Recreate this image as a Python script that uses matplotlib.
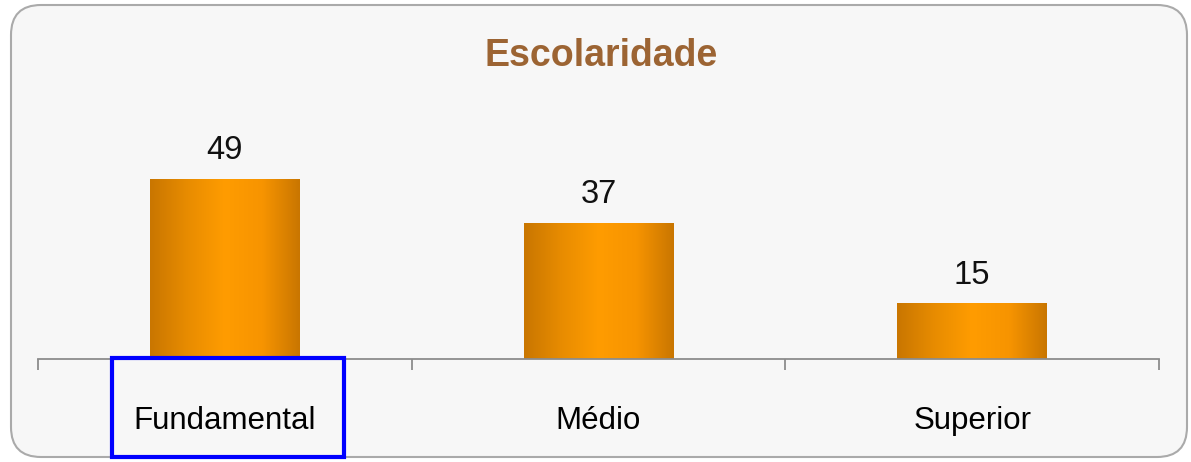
import numpy as np
import matplotlib
matplotlib.use("Agg")
import matplotlib.pyplot as plt
from matplotlib.patches import FancyBboxPatch, Rectangle
from matplotlib.colors import LinearSegmentedColormap
from matplotlib.transforms import IdentityTransform

plt.rcParams['font.family'] = ['Liberation Sans', 'DejaVu Sans']

categorias = ["Fundamental", "Médio", "Superior"]
valores = [49, 37, 15]
titulo = "Escolaridade"

W, H = 1191, 462
fig = plt.figure(figsize=(W / 100, H / 100), dpi=100)
fig.patch.set_facecolor("white")

# rounded background box (pixel coords, origin bottom-left)
caixa = FancyBboxPatch((11, H - 457), 1187 - 11, 457 - 5,
                       boxstyle="round,pad=0,rounding_size=30",
                       transform=IdentityTransform(), facecolor="#f7f7f7",
                       edgecolor="#aaaaaa", linewidth=1.5, zorder=-5)
fig.patches.append(caixa)

ax_left, ax_right = 38 / W, 1159 / W
ax_bottom = 1 - 359 / H
ax_top = 1 - 102 / H
ax = fig.add_axes([ax_left, ax_bottom, ax_right - ax_left, ax_top - ax_bottom])
ax.patch.set_alpha(0)

x = np.arange(len(categorias))
largura = 0.40
ymax = 70

cmap = LinearSegmentedColormap.from_list(
    "laranja", ["#c97600", "#e88c00", "#ff9c00", "#f79400", "#c97600"])
grad = np.linspace(0, 1, 256).reshape(1, -1)

barras = ax.bar(x, valores, width=largura, color="none", edgecolor="none")
for b, v in zip(barras, valores):
    x0 = b.get_x()
    ax.imshow(grad, extent=[x0, x0 + b.get_width(), 0, v], aspect="auto",
              cmap=cmap, zorder=2)
    ax.annotate(str(v), (b.get_x() + b.get_width() / 2, v), xytext=(0, 14.4),
                textcoords="offset points", ha="center", va="baseline",
                fontsize=23.5, color="#111111")

ax.set_xlim(-0.5, len(categorias) - 0.5)
ax.set_ylim(0, ymax)

for s in ["top", "right", "left"]:
    ax.spines[s].set_visible(False)
ax.spines["bottom"].set_color("#8c8c8c")
ax.spines["bottom"].set_linewidth(1.3)
ax.set_yticks([])

ax.set_xticks(np.arange(-0.5, len(categorias)))
ax.set_xticklabels([])
ax.tick_params(axis="x", which="major", length=8, width=1.3, color="#8c8c8c")
ax.set_xticks(x, minor=True)
ax.set_xticklabels(categorias, minor=True, fontsize=22.5)
ax.tick_params(axis="x", which="minor", length=0, pad=33.5)

fig.text(601 / W, 1 - 56 / H, titulo, ha="center", va="center",
         fontsize=27, fontweight="bold", color="#9c6433")

# blue highlight box around first category label
destaque = Rectangle((112 / W, 1 - 457 / H), (344 - 112) / W, (457 - 358) / H,
                     transform=fig.transFigure, fill=False, edgecolor="#0000ff",
                     linewidth=3, zorder=10)
fig.patches.append(destaque)

fig.savefig("out.png", dpi=100)
